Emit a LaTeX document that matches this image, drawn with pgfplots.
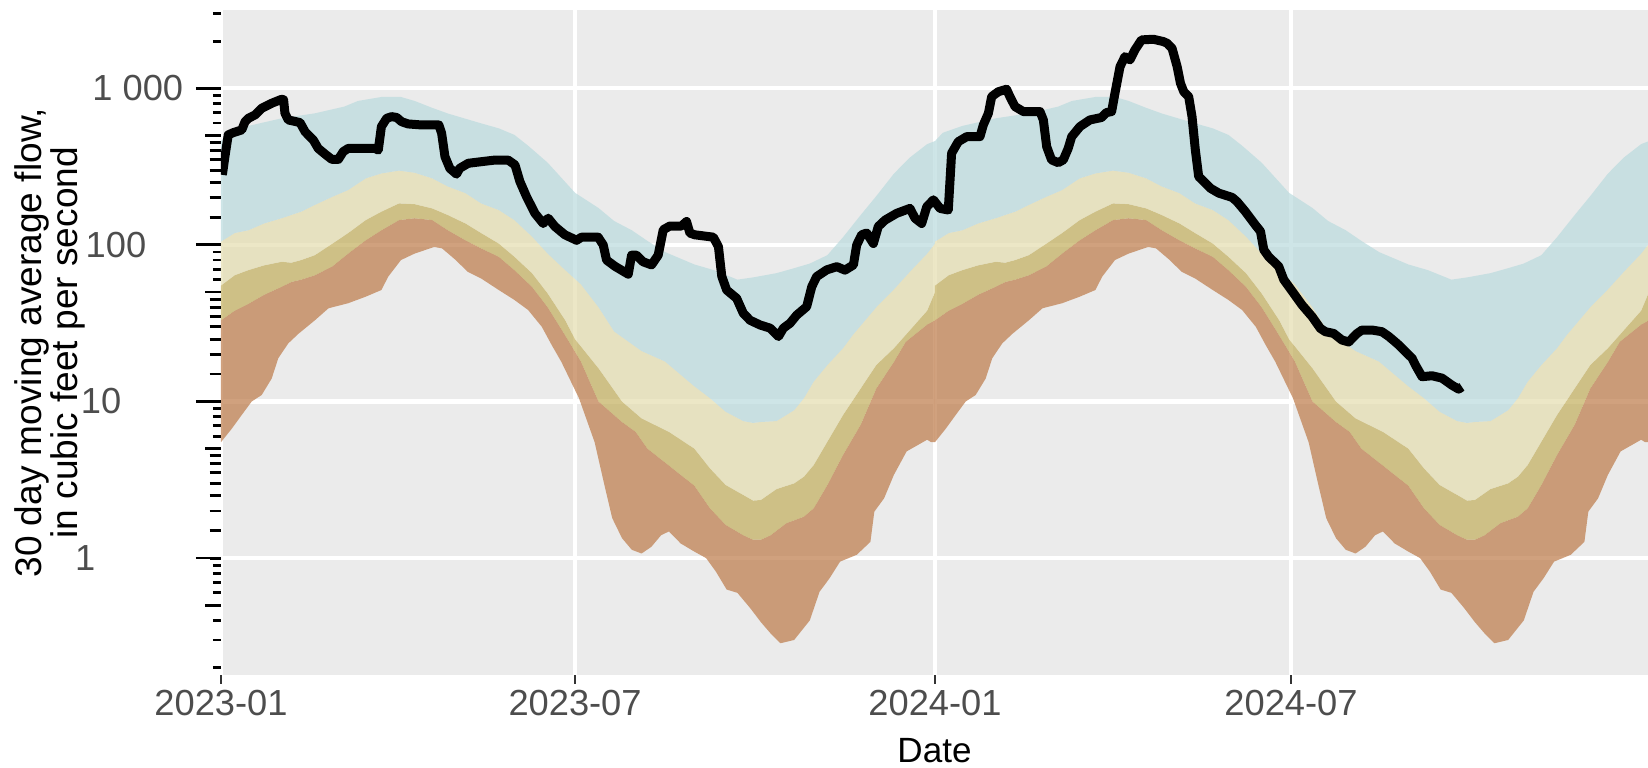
\documentclass[border=0pt]{standalone}
\usepackage{fontspec}
\setmainfont{Liberation Sans}
\usepackage{pgfplots}
\pgfplotsset{compat=1.18}
\usepackage{pgfplotstable}

\definecolor{bgc}{RGB}{235,235,235}
\definecolor{cBrown}{RGB}{189,122,72}
\definecolor{cOlive}{RGB}{194,174,92}
\definecolor{cBeige}{RGB}{228,221,175}
\definecolor{cBlue}{RGB}{186,218,222}
\definecolor{tickgray}{RGB}{77,77,77}
\definecolor{tickdark}{RGB}{51,51,51}

% Each band outline, by day of year: lower edge left to right, then upper edge right to left.
% Brown band: minimum to lowest percentile
\pgfplotstableread{
t v
0 5.5
5.5 6.7
10.6 8.2
15.7 10
20.8 11
25.9 14
29.3 18.9
34.4 23.5
39.5 27
48 33
55 39.4
65 42.4
74 46.7
82 51.5
85.5 62.7
92 80
99 88
109 97
113 95
120 80
126 67.5
133 61
142 51.5
150 44.5
157 38.4
164 30
169 23
174 17.9
183 10.5
191 5.5
196 2.93
200 1.8
205 1.34
210 1.13
215 1.07
220 1.18
225 1.4
229 1.48
235 1.24
242 1.1
248 1.0
253 0.82
258.5 0.63
264 0.60
270.5 0.48
276 0.39
281 0.33
286 0.286
293 0.30
301 0.40
306 0.61
311 0.74
316.5 0.95
325 1.05
332 1.27
334 1.98
339 2.41
344 3.4
350.5 4.8
361 5.7
363 5.5
365 5.5
365 33
361 31
350 24
344 17.9
335 12.1
327 7.1
318 4.56
310 2.93
303 2.08
298 1.84
289 1.67
281 1.40
276 1.31
272 1.31
267 1.40
258 1.63
250 2.08
242 2.9
229 3.9
218 5.0
212 6.4
205 7.4
193 10
184 18
178 24
174 29
167 40
159 54
150 69
142 84
133 95
125 107
116 124
108 144
99 148
91 144
82 124
74 107
65 88
57 73
48 64
41 60
36 58
31 54
22 48
14 42
7 38
0 33
}\Pbrown

% Olive band
\pgfplotstableread{
t v
0 33
7 38
14 42
22 48
31 54
36 58
41 60
48 64
57 73
65 88
74 107
82 124
91 144
99 148
108 144
116 124
125 107
133 95
142 84
150 69
159 54
167 40
174 29
178 24
184 18
193 10
205 7.4
212 6.4
218 5.0
229 3.9
242 2.9
250 2.08
258 1.63
267 1.40
272 1.31
276 1.31
281 1.40
289 1.67
298 1.84
303 2.08
310 2.93
318 4.56
327 7.1
335 12.1
344 17.9
350 24
361 31
365 33
365 50
361 38
350 26.6
344 21.9
335 17.1
327 12.1
318 8.2
310 5.54
303 3.93
298 3.31
293 3.0
284 2.76
276 2.35
272 2.33
267 2.53
258 2.93
250 3.74
242 5.0
229 6.4
215 7.8
205 10
193 16.3
181 25
176 33
167 49
159 66
150 84
142 102
133 119
125 137
116 155
108 171
99 182
91 184
82 163
74 144
65 119
57 102
48 86
41 80
36 77
31 78
22 74
14 69
7 64
0 55
}\Polive

% Beige band
\pgfplotstableread{
t v
0 55
7 64
14 69
22 74
31 78
36 77
41 80
48 86
57 102
65 119
74 144
82 163
91 184
99 182
108 171
116 155
125 137
133 119
142 102
150 84
159 66
167 49
176 33
181 25
193 16.3
205 10
215 7.8
229 6.4
242 5.0
250 3.74
258 2.93
267 2.53
272 2.33
276 2.35
284 2.76
293 3.0
298 3.31
303 3.93
310 5.54
318 8.2
327 12.1
335 17.1
344 21.9
350 26.6
361 38
365 50
365 102
361 88
352 67
344 52
335 40
323 26.6
318 21.9
310 17.1
303 13.4
298 10.5
293 8.8
284 7.5
276 7.4
272 7.3
267 7.5
258 8.6
250 10.5
242 12.5
227 18
215 21
201 28
193 40
184 56
176 69
167 88
159 113
150 144
142 167
133 184
125 214
116 236
108 266
99 289
91 298
82 286
74 266
65 224
57 203
48 180
41 163
31 148
22 137
14 124
7 119
0 105
}\Pbeige

% Blue band
\pgfplotstableread{
t v
0 105
7 119
14 124
22 137
31 148
41 163
48 180
57 203
65 224
74 266
82 286
91 298
99 289
108 266
116 236
125 214
133 184
142 167
150 144
159 113
167 88
176 69
184 56
193 40
201 28
215 21
227 18
242 12.5
250 10.5
258 8.6
267 7.5
272 7.3
276 7.4
284 7.5
293 8.8
298 10.5
303 13.4
310 17.1
318 21.9
323 26.6
335 40
344 52
352 67
361 88
365 102
365 460
361 440
352 360
344 285
335 205
327 155
318 112
310 86
301 76
293 71
284 66
272 62
264 60
252 69
242 75
227 90
218 106
210 124
201 142
193 172
181 215
167 335
157 430
150 504
142 555
133 597
116 690
108 750
99 830
92 880
82 880
70 830
63 764
48 692
31 643
14 575
4 520
0 460
}\Pblue

% 30 day moving average flow (days since 2023-01-01)
\pgfplotstableread{
d v
0.7 280
2 366
3.7 504
6.3 521
10.6 542
12.3 612
14 643
17.4 676
20.8 745
25.9 802
31 851
32 845
32.7 692
34.4 628
40.4 604
43 528
47.2 467
49.7 413
53.2 380
56.6 352
60 352
62.5 394
65 413
78.7 413
80.4 403
82 569
84.7 643
87.2 659
89.8 651
92.3 612
95.7 592
102.6 583
111.4 583
112.8 515
114.5 366
117 308
120.4 283
122 308
126.4 332
133.2 340
140 348
146.8 348
150.3 324
152.8 254
156.2 203
160.5 159
164.7 137
167.3 148
170.7 131
175.8 116
181.8 107
184.3 112
192.8 112
195.4 100
197.1 80
201.4 73
208.2 65
209.9 86
212.4 86
215.8 78
220.1 74.5
223.5 86
226.1 125
229.5 132
235.4 132
238 141
239.7 119
242.2 116
251.7 112
254.3 97.4
256 63
258.5 51.5
263.6 45.6
267 36.6
270.5 33
275.6 30.8
280.7 29.4
285 26
287.5 29.4
290.9 31.6
294.3 35.6
299.4 40.3
302 54
304.5 62.7
309.6 69.2
314.8 72.6
319 69
323.3 74.5
325 100
327.5 116
330.1 119
333.5 102
336 131
339.5 144
345.4 159
352.2 171
354.8 148
358.2 137
360.8 175
364.2 194
367.6 171
371.8 167
373.5 385
376.9 456
381.2 491
388 491
389.7 583
392.3 692
394 885
397.4 951
401.6 986
403.3 885
405.9 764
410.2 710
418.7 710
420.4 628
422.1 424
424.6 349
428 335
430.6 349
433.1 413
434.9 491
439.1 569
444.2 628
450.2 651
452.7 700
455.3 710
457 929
459.6 1374
462.1 1592
464.7 1518
467.2 1758
470.6 2037
476.6 2056
481.7 1988
483.7 1938
486.2 1800
488.8 1374
490.5 1076
492.2 951
494.7 885
496.4 659
498.1 404
499.8 273
502.4 254
505.8 230
510.1 214
516.9 201
519.4 189
523.7 163
528.8 134
531.4 122
533.1 93
535.6 84
540.7 73
543.3 60
548.4 49
552.6 41.4
557.8 34.8
562 29.3
564.6 27.9
568.8 27.2
573 24.7
576.5 24
580.8 27.2
583.3 28.6
588.4 28.6
593.5 27.9
597 26
600.3 24
602 23
608.9 18.9
610.6 17.1
614 14.4
619.1 14.6
624.2 14.1
629.3 12.7
632.7 12.0
634.4 12.4
}\Tflow

\begin{document}
\begin{tikzpicture}
% background and grid
\begin{axis}[width=356.75bp, height=166.125bp, scale only axis,
  at={(0,0)}, anchor=south west,
  xmin=0, xmax=729.5, ymode=log, ymin=0.1793, ymax=3139,
  axis x line*=bottom, axis y line*=left, axis line style={draw=none},
  axis background/.style={fill=bgc},
  xtick={0,181,365,547}, ytick={1,10,100,1000},
  xticklabels={}, yticklabels={},
  grid=major, major grid style={draw=white, line width=1.07bp},
  tick style={draw=none}]
  \addplot[draw=none] coordinates {(10,10)};
\end{axis}
% data and y ticks
\begin{axis}[width=356.75bp, height=166.125bp, scale only axis,
  at={(0,0)}, anchor=south west,
  xmin=0, xmax=729.5, ymode=log, ymin=0.1793, ymax=3139,
  axis x line*=bottom, axis y line*=left, axis line style={draw=none},
  tick align=outside, xtick=\empty,
  ytick={1,10,100,1000},
  yticklabels={1\hspace*{22bp},10\hspace*{15.5bp},100\hspace*{9.25bp},1\ 000},
  minor ytick={0.2,0.3,0.4,0.6,0.7,0.8,0.9,2,3,4,6,7,8,9,20,30,40,60,70,80,90,200,300,400,600,700,800,900,2000,3000},
  major tick length=6.25bp, minor tick length=2bp,
  tick style={black, line width=0.7bp},
  yticklabel style={font=\fontsize{9.1}{10}\selectfont, text=tickgray, anchor=east, inner sep=0pt, xshift=-3bp},
  ylabel={30 day moving average flow,\\in cubic feet per second},
  every axis y label/.style={at={(axis description cs:-0.0949,0.5)}, rotate=90, anchor=south,
    align=center, inner sep=0pt, font=\fontsize{9.3}{9}\selectfont}]
  \addplot[fill=cBrown, fill opacity=0.7, draw=none] table[x=t, y=v] {\Pbrown};
  \addplot[fill=cOlive, fill opacity=0.7, draw=none] table[x=t, y=v] {\Polive};
  \addplot[fill=cBeige, fill opacity=0.7, draw=none] table[x=t, y=v] {\Pbeige};
  \addplot[fill=cBlue, fill opacity=0.7, draw=none] table[x=t, y=v] {\Pblue};
  \addplot[fill=cBrown, fill opacity=0.7, draw=none] table[x expr=\thisrow{t}+365, y=v] {\Pbrown};
  \addplot[fill=cOlive, fill opacity=0.7, draw=none] table[x expr=\thisrow{t}+365, y=v] {\Polive};
  \addplot[fill=cBeige, fill opacity=0.7, draw=none] table[x expr=\thisrow{t}+365, y=v] {\Pbeige};
  \addplot[fill=cBlue, fill opacity=0.7, draw=none] table[x expr=\thisrow{t}+365, y=v] {\Pblue};
  \addplot[black, line width=2.25bp, line join=round] table[x=d, y=v] {\Tflow};
\end{axis}
% mid log ticks
\begin{axis}[width=356.75bp, height=166.125bp, scale only axis,
  at={(0,0)}, anchor=south west,
  xmin=0, xmax=729.5, ymode=log, ymin=0.1793, ymax=3139,
  axis x line*=bottom, axis y line*=left, axis line style={draw=none},
  tick align=outside, xtick=\empty, ytick={0.5,5,50,500}, yticklabels={},
  major tick length=4bp, tick style={black, line width=0.7bp}]
  \addplot[draw=none] coordinates {(10,10)};
\end{axis}
% x ticks
\begin{axis}[width=356.75bp, height=166.125bp, scale only axis,
  at={(0,0)}, anchor=south west,
  xmin=0, xmax=729.5, ymode=log, ymin=0.1793, ymax=3139,
  axis x line*=bottom, axis y line*=left, axis line style={draw=none},
  tick align=outside, ytick=\empty,
  xtick={0,181,365,547}, xticklabels={2023-01,2023-07,2024-01,2024-07},
  major tick length=2.2bp, tick style={tickdark, line width=0.6bp},
  xticklabel style={font=\fontsize{9.1}{10}\selectfont, text=tickgray, anchor=base, inner sep=0pt, yshift=-7.9bp},
  xlabel={Date},
  every axis x label/.style={at={(axis description cs:0.5,0)}, anchor=base, yshift=-21.75bp,
    inner sep=0pt, font=\fontsize{8.8}{10}\selectfont}]
  \addplot[draw=none] coordinates {(10,10)};
\end{axis}
\pgfresetboundingbox
\path[use as bounding box] (-55.25bp,-23.25bp) rectangle (356.75bp,168.75bp);
\end{tikzpicture}
\end{document}
